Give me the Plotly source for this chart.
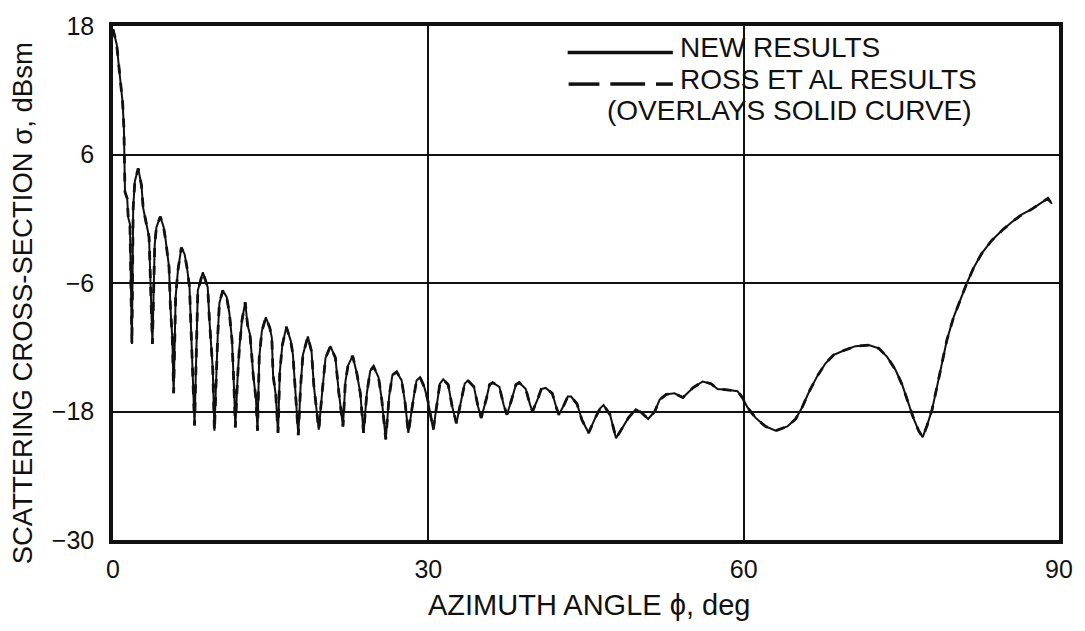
import plotly.graph_objects as go

# Monostatic scattering cross-section versus azimuth angle
azimuth_deg = [
    0.00, 0.10, 0.35, 0.50, 0.73, 0.92, 1.04, 1.06, 1.14, 1.35, 1.45, 1.61, 1.80,
    1.92, 2.08, 2.40, 2.71, 2.87, 3.18, 3.43, 3.56, 3.75,
    3.97, 4.13, 4.50, 4.82, 5.01, 5.33, 5.46, 5.65, 5.77,
    5.96, 6.18, 6.50, 6.81, 7.03, 7.28, 7.44, 7.60, 7.76,
    8.07, 8.55, 9.01, 9.17, 9.49, 9.65,
    9.96, 10.12, 10.44, 10.81, 11.07, 11.32, 11.54, 11.64,
    11.85, 12.02, 12.27, 12.58, 12.80, 13.03, 13.22, 13.34, 13.60, 13.75,
    13.91, 14.16, 14.54, 14.92, 15.11, 15.23, 15.49, 15.70,
    15.87, 16.11, 16.49, 16.91, 17.12, 17.31, 17.47, 17.63,
    17.85, 18.07, 18.54, 18.89, 19.11, 19.33, 19.58,
    19.90, 20.22, 20.69, 21.16, 21.48, 21.88,
    22.11, 22.36, 22.80, 23.21, 23.53, 23.84,
    24.15, 24.47, 24.79, 25.26, 25.57, 25.95,
    26.27, 26.58, 26.99, 27.46, 27.79, 28.10,
    28.57, 28.88, 29.21, 29.61, 29.92, 30.47,
    30.88, 31.10, 31.42, 31.89, 32.26, 32.67,
    33.14, 33.46, 33.77, 34.34, 34.72, 35.03,
    35.50, 35.82, 36.13, 36.76, 37.17, 37.48,
    37.92, 38.33, 38.65, 39.27, 39.69, 39.91,
    40.38, 40.75, 41.16, 41.79, 42.20, 42.42,
    42.90, 43.27, 43.58, 44.15, 44.62, 45.25,
    45.88, 46.35, 46.67, 47.29, 47.86,
    48.40, 49.03, 49.75, 50.28, 50.91, 51.54, 52.01, 52.64, 53.42, 54.22,
    55.16, 56.10, 56.89, 57.52, 58.61, 59.41, 59.88,
    60.35, 61.14, 62.09, 63.04, 64.15, 64.94, 65.57, 66.20, 67.00, 67.79,
    68.58, 69.53, 70.64, 71.90, 72.85, 73.65, 74.44, 75.08, 75.70, 76.18,
    76.65, 77.03, 77.45, 77.93, 78.39, 78.87, 79.34, 79.97, 80.61, 81.24,
    81.87, 82.67, 83.62, 84.57, 85.52, 86.47, 87.42, 88.37, 88.94, 89.32,
]

sigma_dbsm = [
    17.7, 17.3, 16.3, 14.8, 12.7, 10.8, 8.4, 5.9, 2.5, 1.9, 0.1, -0.5, -11.7,
    1.0, 3.5, 4.7, 3.1, 1.0, -0.5, -1.7, -5.7, -11.7,
    -2.4, -0.8, 0.2, -0.8, -2.0, -4.5, -8.2, -11.3, -16.3,
    -7.3, -4.8, -2.7, -3.3, -4.5, -6.4, -10.4, -14.3, -19.3,
    -6.7, -5.0, -6.4, -9.4, -14.0, -19.8,
    -11.0, -7.9, -6.7, -7.3, -8.8, -11.3, -16.5, -19.5,
    -14.9, -12.1, -9.5, -7.8, -9.9, -10.8, -13.0, -14.6, -16.8, -19.8,
    -13.0, -10.5, -9.2, -10.2, -11.1, -14.6, -16.5, -20.0,
    -14.3, -11.8, -10.1, -11.4, -12.7, -15.2, -17.8, -20.2,
    -15.6, -12.7, -11.0, -12.4, -15.6, -17.8, -19.7,
    -16.2, -13.0, -11.9, -13.0, -16.2, -19.4,
    -15.2, -13.7, -12.8, -14.5, -16.3, -20.0,
    -16.3, -14.2, -13.8, -14.8, -16.9, -20.6,
    -16.6, -14.6, -14.3, -15.1, -17.2, -20.0,
    -16.9, -15.1, -14.8, -15.7, -16.8, -19.7,
    -16.9, -15.4, -15.0, -15.5, -17.5, -19.1,
    -16.9, -15.4, -15.1, -15.7, -17.5, -18.6,
    -16.9, -15.5, -15.3, -15.7, -17.4, -18.3,
    -16.9, -15.5, -15.3, -15.9, -17.4, -18.0,
    -16.9, -15.9, -15.8, -16.3, -17.7, -18.3,
    -17.4, -16.6, -16.6, -17.3, -18.8, -20.0,
    -18.6, -17.7, -17.4, -18.3, -20.5,
    -19.6, -18.6, -17.8, -18.1, -18.7, -18.0, -16.9, -16.4, -16.3, -16.7,
    -15.8, -15.2, -15.4, -15.9, -16.0, -16.1, -16.7,
    -17.6, -18.6, -19.4, -19.8, -19.4, -18.7, -17.6, -16.2, -14.7, -13.5,
    -12.7, -12.3, -11.9, -11.8, -12.1, -12.9, -14.1, -15.5, -17.3, -18.7,
    -19.8, -20.4, -19.3, -17.8, -15.7, -13.5, -11.3, -9.2, -7.5, -6.0,
    -4.6, -3.2, -2.0, -1.1, -0.3, 0.4, 0.9, 1.5, 1.9, 1.4,
]

x_ticks = [0, 30, 60, 90]
y_ticks = [18, 6, -6, -18, -30]
y_tick_text = ["18", "6", "\u22126", "\u221218", "\u221230"]

series_names = ["NEW RESULTS", "ROSS ET AL RESULTS"]
legend_note = "(OVERLAYS SOLID CURVE)"

FONT = "Liberation Sans, Arial, Helvetica, sans-serif"
INK = "#111111"

fig = go.Figure()

# new results: solid curve
fig.add_trace(go.Scatter(
    x=azimuth_deg, y=sigma_dbsm, mode="lines", name=series_names[0],
    line=dict(color=INK, width=2.0), showlegend=False,
))
# Ross et al: dashed curve lying on top of the solid one
fig.add_trace(go.Scatter(
    x=azimuth_deg, y=sigma_dbsm, mode="lines", name=series_names[1],
    line=dict(color=INK, width=2.8, dash="dash"), showlegend=False,
))

# plot area in pixels: x 113..1066, y 18..540
L, R, T, B = 113, 1066, 18, 540


def px(xp):
    return (xp - L) / (R - L)


def py(yp):
    return (B - yp) / (B - T)


shapes = []
# legend samples
shapes.append(dict(type="line", xref="paper", yref="paper",
                   x0=px(571), x1=px(677), y0=py(45), y1=py(45),
                   line=dict(color=INK, width=3.5)))
for a, b in [(572, 603), (614, 649), (660, 677)]:
    shapes.append(dict(type="line", xref="paper", yref="paper",
                       x0=px(a), x1=px(b), y0=py(77), y1=py(77),
                       line=dict(color=INK, width=3.5)))

LEG = 28
annotations = [
    dict(text=series_names[0], x=px(682), y=py(40), xref="paper", yref="paper",
         xanchor="left", yanchor="middle", showarrow=False,
         font=dict(family=FONT, size=LEG, color=INK)),
    dict(text=series_names[1], x=px(682), y=py(72), xref="paper", yref="paper",
         xanchor="left", yanchor="middle", showarrow=False,
         font=dict(family=FONT, size=LEG, color=INK)),
    dict(text=legend_note, x=px(609), y=py(104), xref="paper", yref="paper",
         xanchor="left", yanchor="middle", showarrow=False,
         font=dict(family=FONT, size=LEG, color=INK)),
    dict(text="AZIMUTH ANGLE \u03d5, deg", x=px(593), y=py(606),
         xref="paper", yref="paper", xanchor="center", yanchor="middle",
         showarrow=False, font=dict(family=FONT, size=29, color=INK)),
    dict(text="SCATTERING CROSS-SECTION \u03c3, dBsm", x=px(22), y=py(300),
         xref="paper", yref="paper", xanchor="center", yanchor="middle",
         textangle=-90, showarrow=False,
         font=dict(family=FONT, size=27.5, color=INK)),
]

fig.update_layout(
    width=1085, height=631,
    margin=dict(l=L, r=1085 - R, t=T, b=631 - B),
    paper_bgcolor="white", plot_bgcolor="white",
    font=dict(family=FONT, color=INK),
    shapes=shapes, annotations=annotations,
    showlegend=False,
)

fig.update_xaxes(
    range=[0, 90], tickmode="array", tickvals=x_ticks,
    ticktext=[str(v) for v in x_ticks],
    tickfont=dict(family=FONT, size=25, color=INK),
    showgrid=True, gridcolor=INK, gridwidth=2.2,
    showline=True, linecolor=INK, linewidth=3.5, mirror=True,
    zeroline=False, ticks="", ticklabelstandoff=4,
)
fig.update_yaxes(
    range=[-30, 18], tickmode="array", tickvals=y_ticks, ticktext=y_tick_text,
    tickfont=dict(family=FONT, size=25, color=INK),
    showgrid=True, gridcolor=INK, gridwidth=2.2,
    showline=True, linecolor=INK, linewidth=3.5, mirror=True,
    zeroline=False, ticks="", ticklabelstandoff=10,
)

fig.write_html("out.html")
